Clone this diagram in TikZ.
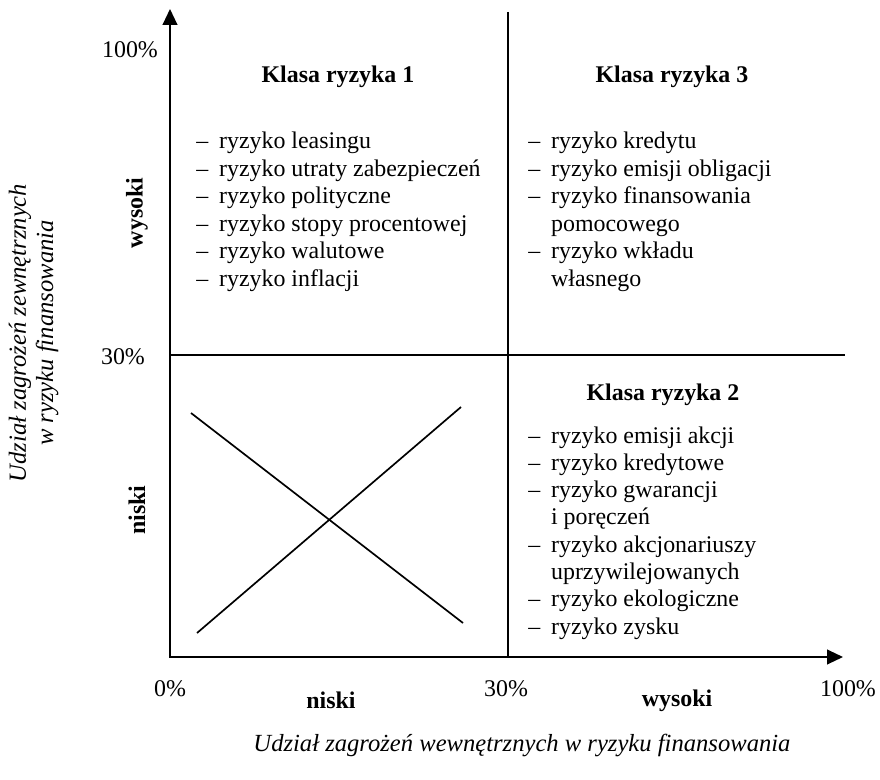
\documentclass[tikz,border=0pt]{standalone}
\usepackage{fontspec}
\setmainfont{Liberation Serif}
\usetikzlibrary{arrows.meta}
\newcommand{\dl}[1]{\makebox[0.57cm][l]{–}#1}
\newcommand{\cl}[1]{\hspace*{0.57cm}#1}
\begin{document}
\begin{tikzpicture}[x=0.025cm,y=-0.025cm,
  txt/.style={inner sep=0pt, font=\fontsize{17}{20}\selectfont},
  hd/.style={inner sep=0pt, font=\fontsize{17}{20}\selectfont\bfseries},
  itl/.style={inner sep=0pt, font=\fontsize{17.5}{20}\selectfont\itshape},
  axisline/.style={line width=1.2pt, -{Triangle[length=0.4cm,width=0.37cm]}},
  rule/.style={line width=1.2pt}]
\useasboundingbox (0,0) rectangle (880,780);
% axes
\coordinate (o) at (170,657);
\coordinate (ostart) at (169,657);
\coordinate (ytop) at (170,9);
\coordinate (xend) at (843,657);
\draw[axisline] (o) -- (ytop);
\draw[axisline] (ostart) -- (xend);
% dividers
\coordinate (vtop) at (508,12);
\coordinate (vbot) at (508,657);
\coordinate (hl) at (170,355);
\coordinate (hr) at (845,355);
\draw[rule] (vtop) -- (vbot);
\draw[rule] (hl) -- (hr);
% cross
\coordinate (c1) at (191,413);
\coordinate (c2) at (463,623);
\coordinate (c3) at (197,633);
\coordinate (c4) at (461,407);
\draw[rule] (c1) -- (c2);
\draw[rule] (c3) -- (c4);
% axis tick labels
\node[txt,anchor=base] (y100) at (130,58) {100\%};
\node[txt,anchor=base] (y30) at (123,365) {30\%};
\node[txt,anchor=base] (x0) at (170,696) {0\%};
\node[txt,anchor=base] (x30) at (506,696) {30\%};
\node[txt,anchor=base] (x100) at (848,696) {100\%};
\node[hd,anchor=base] (xlow) at (331,708) {niski};
\node[hd,anchor=base] (xhigh) at (677,706) {wysoki};
\node[hd,rotate=90] (yhigh) at (137,213) {wysoki};
\node[hd,rotate=90] (ylow) at (137,510) {niski};
\node[itl,rotate=90] (ylab1) at (20,333) {Udział zagrożeń zewnętrznych};
\node[itl,rotate=90] (ylab2) at (47,333) {w ryzyku finansowania};
\node[itl,anchor=base] (xlab) at (522,751) {Udział zagrożeń wewnętrznych w ryzyku finansowania};
% headers
\node[hd,anchor=base] (k1) at (338,83) {Klasa ryzyka 1};
\node[hd,anchor=base] (k3) at (672,83) {Klasa ryzyka 3};
\node[hd,anchor=base] (k2) at (663,400) {Klasa ryzyka 2};
% lists
\foreach \t [count=\i] in {{\dl{ryzyko leasingu}},{\dl{ryzyko utraty zabezpieczeń}},{\dl{ryzyko polityczne}},{\dl{ryzyko stopy procentowej}},{\dl{ryzyko walutowe}},{\dl{ryzyko inflacji}}}
  \node[txt,anchor=base west] (qa\i) at (196,{149+27.5*(\i-1)}) {\t};
\foreach \t [count=\i] in {{\dl{ryzyko kredytu}},{\dl{ryzyko emisji obligacji}},{\dl{ryzyko finansowania}},{\cl{pomocowego}},{\dl{ryzyko wkładu}},{\cl{własnego}}}
  \node[txt,anchor=base west] (qc\i) at (528,{149+27.5*(\i-1)}) {\t};
\foreach \t [count=\i] in {{\dl{ryzyko emisji akcji}},{\dl{ryzyko kredytowe}},{\dl{ryzyko gwarancji}},{\cl{i poręczeń}},{\dl{ryzyko akcjonariuszy}},{\cl{uprzywilejowanych}},{\dl{ryzyko ekologiczne}},{\dl{ryzyko zysku}}}
  \node[txt,anchor=base west] (qb\i) at (528,{443+27.3*(\i-1)}) {\t};
\end{tikzpicture}
\end{document}
